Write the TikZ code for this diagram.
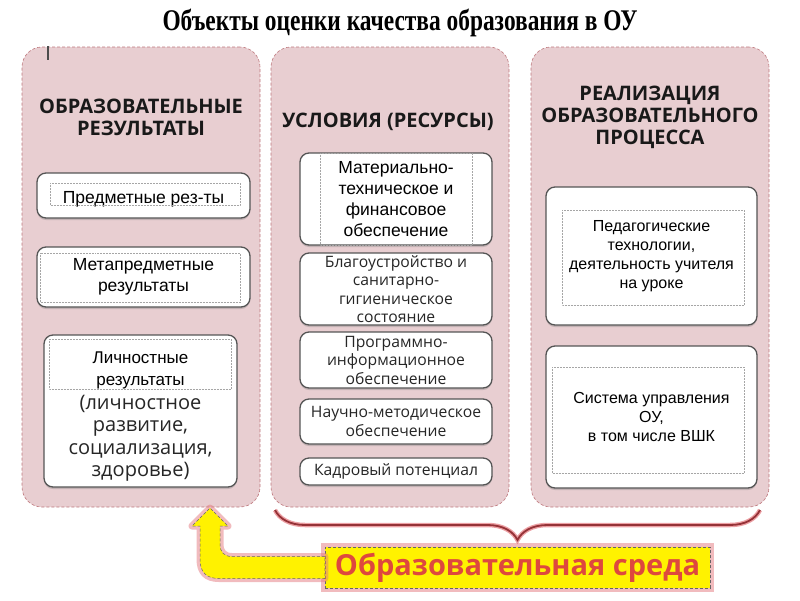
\documentclass[tikz,border=0pt]{standalone}
\usepackage{fontspec}
\usepackage{graphicx}
\setmainfont{Liberation Serif}
\newfontfamily\arialf{Liberation Sans}
\newfontfamily\osans{Open Sans}
\usetikzlibrary{positioning}
\usetikzlibrary{calc}
\usetikzlibrary{shadows}
\usetikzlibrary{decorations.pathreplacing}

\definecolor{panelpink}{RGB}{232,206,209}
\definecolor{panelline}{RGB}{190,120,125}
\definecolor{boxline}{RGB}{85,85,85}
\definecolor{bannerred}{RGB}{222,72,62}
\definecolor{braceline}{RGB}{150,50,55}
\definecolor{glow}{RGB}{228,120,125}

\tikzset{
  panel/.style={draw=panelline, densely dashed, line width=0.6pt, fill=panelpink, rounded corners=20pt},
  head/.style={font=\osans\bfseries\fontsize{20}{22}\selectfont, align=center, text=black!90},
  card/.style={draw=boxline, line width=1.3pt, fill=white, rounded corners=9pt, inner sep=1pt,
    drop shadow={shadow xshift=0pt, shadow yshift=-2pt, opacity=0.35}},
  inner/.style={draw=gray!70, densely dotted, line width=0.5pt},
  atxt/.style={font=\arialf\fontsize{16}{19}\selectfont, align=center},
  abig/.style={font=\arialf\fontsize{17.5}{21}\selectfont, align=center},
  otxt/.style={font=\osans\fontsize{15.7}{18.5}\selectfont, align=center, text=black!85},
  banner/.style={fill=yellow, draw=black!60, densely dashed, line width=0.5pt,
    preaction={draw=glow, solid, line width=8pt, opacity=0.5},
    font=\osans\bfseries\fontsize{29}{32}\selectfont, text=bannerred},
  arrowshape/.style={fill=yellow, draw=black!60, densely dashed, line width=0.5pt},
  arrowglow/.style={draw=glow, line width=7pt, opacity=0.5, line join=round},
  braceglow/.style={decorate, decoration={brace, mirror, amplitude=30pt}, draw=glow!70, line width=4.5pt},
  bracelink/.style={decorate, decoration={brace, mirror, amplitude=30pt}, draw=braceline, line width=1.8pt},
}

\begin{document}
\begin{tikzpicture}[x=1pt, y=-1pt]
  \useasboundingbox (0,0) rectangle (800,600);

  % title
  \node (title) at (400,23) {\fontsize{30}{34}\selectfont\bfseries\scalebox{0.78}[1]{Объекты оценки качества образования в ОУ}};

  % three panels
  \node[panel, minimum width=238pt, minimum height=460pt] (p1) at (141,277) {};
  \node[panel, minimum width=238pt, minimum height=460pt] (p2) at (390,277) {};
  \node[panel, minimum width=238pt, minimum height=460pt] (p3) at (650,277) {};
  \draw[line width=1.2pt, black!70] (48,46) -- (48,60);

  \node[head] (h1) at (141,117) {ОБРАЗОВАТЕЛЬНЫЕ\\РЕЗУЛЬТАТЫ};
  \node[head] (h2) at (388,122) {УСЛОВИЯ (РЕСУРСЫ)};
  \node[head] (h3) at (650,117) {РЕАЛИЗАЦИЯ\\ОБРАЗОВАТЕЛЬНОГО\\ПРОЦЕССА};

  % left column
  \node[card, abig, minimum width=213pt, minimum height=45pt] (l1) at (143.5,195.5) {\rule{0pt}{20pt}Предметные рез-ты};
  \draw[inner] (50,183) rectangle (240,205);
  \node[card, abig, minimum width=213pt, minimum height=60pt] (l2) at (143.5,277) {Метапредметные\\результаты};
  \draw[inner] (40,253) rectangle (240,302);
  \node[card, font=\osans\fontsize{20}{22.5}\selectfont, align=center, text=black!85,
    minimum width=193pt, minimum height=152pt] (l3) at (140.5,411)
    {\arialf\fontsize{17}{21}\selectfont\color{black}\rule{0pt}{23pt}Личностные\\
     \arialf\fontsize{17}{21}\selectfont\color{black} результаты\\[1pt]
     (личностное\\развитие,\\социализация,\\здоровье)};
  \draw[inner] (49,339) rectangle (231,389);

  % middle column
  \node[card, abig, minimum width=192pt, minimum height=92pt] (m1) at (396,199) {Материально-\\техническое и\\финансовое\\обеспечение};
  \draw[inner] (320,153) rectangle (472,245);
  \foreach \yc/\hh/\txt [count=\i from 2] in {289/72/{Благоустройство и\\санитарно-\\гигиеническое\\состояние},
      360/56/{Программно-\\информационное\\обеспечение},
      421.5/45/{Научно-методическое\\обеспечение},
      471.5/27/{Кадровый потенциал}}
    \node[card, otxt, minimum width=192pt, minimum height=\hh pt] (m\i) at (396,\yc) {\txt};

  % right column
  \node[card, atxt, minimum width=211pt, minimum height=138pt] (r1) at (651.5,256) {Педагогические\\технологии,\\деятельность учителя\\на уроке};
  \draw[inner] (562,210) rectangle (744,305);
  \node[card, atxt, minimum width=211pt, minimum height=142pt] (r2) at (651.5,417) {Система управления\\ОУ,\\в том числе ВШК};
  \draw[inner] (552,367) rectangle (744,473);

  % brace and environment
  \coordinate (bl) at (275,510);
  \coordinate (br) at (760,510);
  \draw[braceglow] (bl) -- (br);
  \draw[bracelink] (bl) -- (br);

  \node[banner, minimum width=385pt, minimum height=41pt] (sreda) at (517.5,567.5) {Образовательная среда};
  \coordinate (tip) at (210,508);
  \foreach \sty in {arrowglow, arrowshape}
    \draw[\sty] ($(sreda.west)+(0,-11)$) -- (232,556.5) .. controls (224,556.5) and (220,552) .. (220,544)
      -- (220,526) -- (228,526) -- (tip) -- (192,526) -- (200,526) -- (200,559)
      .. controls (200,572) and (206,578.5) .. (219,578.5) -- ($(sreda.west)+(0,11)$) -- cycle;
\end{tikzpicture}
\end{document}
